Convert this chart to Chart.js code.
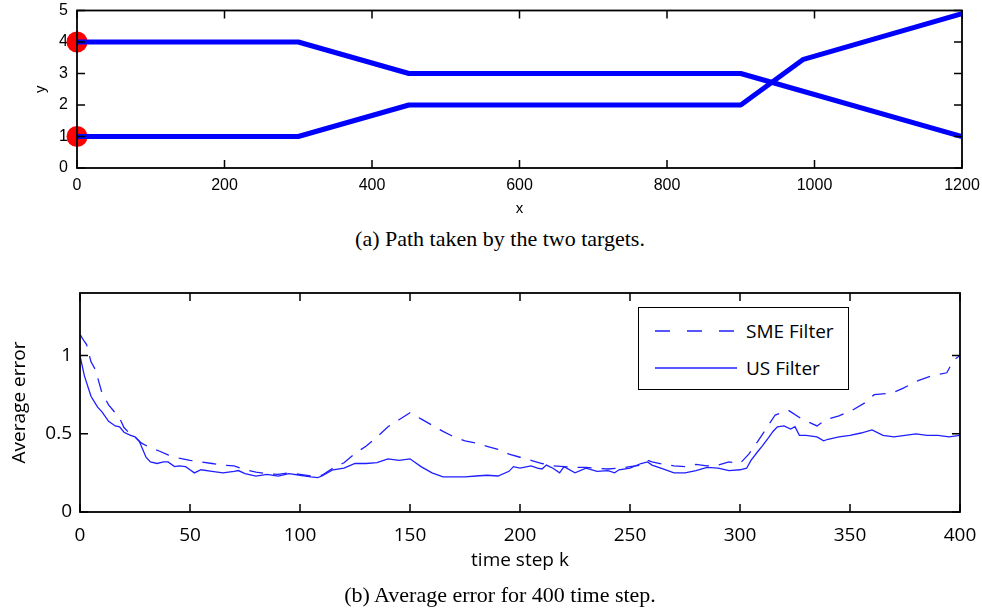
<!DOCTYPE html>
<html>
<head>
<meta charset="utf-8">
<script src="https://cdn.jsdelivr.net/npm/chart.js@4.4.0/dist/chart.umd.min.js"></script>
<style>
  html, body { margin: 0; padding: 0; background: #fff; }
  #wrap { position: relative; width: 982px; height: 609px; overflow: hidden; }
  #pathChart { position: absolute; left: 0; top: 0; }
  #errChart { position: absolute; left: 0; top: 260px; }
  .cap { position: absolute; left: 200px; width: 600px; text-align: center;
         font-family: "Liberation Serif", serif; font-size: 22px; line-height: 26px; color: #000; }
  #legend { position: absolute; left: 638px; top: 307px; width: 209px; height: 81px;
            border: 1.5px solid #000; background: #fff; }
  #legend svg { position: absolute; left: 0; top: 0; }
  #legend span { position: absolute; left: 107px; font-family: "Open Sans", sans-serif;
                 font-size: 19px; line-height: 24px; color: #000; }
</style>
</head>
<body>
<div id="wrap">
  <canvas id="pathChart" width="982" height="226"></canvas>
  <div class="cap" style="top:226px">(a) Path taken by the two targets.</div>
  <canvas id="errChart" width="982" height="349"></canvas>
  <div id="legend">
    <svg width="209" height="81">
      <line x1="16" y1="23" x2="97" y2="23" stroke="#1f1fff" stroke-width="1.4" stroke-dasharray="15 17"></line>
      <line x1="16" y1="60" x2="98" y2="60" stroke="#1f1fff" stroke-width="1.4"></line>
    </svg>
    <span style="top:11px">SME Filter</span>
    <span style="top:48px">US Filter</span>
  </div>
  <div class="cap" style="top:582px">(b) Average error for 400 time step.</div>
</div>

<script>
// paths of the two targets
var path1X = [0, 300, 450, 900, 1200]
var path1Y = [4, 4, 3, 3, 1]
var path2X = [0, 300, 450, 900, 985, 1200]
var path2Y = [1, 1, 2, 2, 3.45, 4.9]
var startX = [0, 0]
var startY = [4, 1]

// average error per time step
var usK = [0, 2, 5, 8, 10, 13, 16, 18, 20, 23, 25, 27, 30, 32, 35, 38, 40, 43, 45, 48, 50, 52, 55, 60, 65,
  70, 72, 75, 80, 85, 90, 95, 100, 105, 108, 110, 115, 120, 125, 130, 135, 140, 145, 150, 155, 160, 165,
  170, 175, 180, 185, 190, 195, 197, 200, 205, 208, 210, 212, 215, 218, 220, 225, 230, 235, 240, 243, 245,
  250, 255, 258, 260, 265, 270, 275, 280, 285, 290, 295, 300, 303, 305, 308, 310, 313, 315, 317, 320, 323,
  325, 327, 330, 335, 338, 340, 345, 350, 355, 360, 365, 370, 375, 380, 385, 390, 395, 400]
var usErr = [1.0, 0.87, 0.74, 0.67, 0.64, 0.58, 0.55, 0.545, 0.51, 0.49, 0.48, 0.45, 0.35, 0.32, 0.31, 0.32,
  0.32, 0.29, 0.295, 0.29, 0.27, 0.25, 0.27, 0.26, 0.25, 0.26, 0.265, 0.245, 0.23, 0.24, 0.23, 0.245, 0.235,
  0.225, 0.22, 0.23, 0.27, 0.28, 0.31, 0.31, 0.315, 0.34, 0.33, 0.34, 0.29, 0.25, 0.225, 0.225, 0.225, 0.23,
  0.235, 0.23, 0.26, 0.29, 0.28, 0.295, 0.28, 0.275, 0.30, 0.28, 0.25, 0.29, 0.25, 0.28, 0.26, 0.265, 0.25,
  0.27, 0.28, 0.31, 0.32, 0.30, 0.275, 0.25, 0.25, 0.265, 0.285, 0.28, 0.265, 0.27, 0.28, 0.33, 0.385, 0.42,
  0.475, 0.515, 0.545, 0.55, 0.53, 0.545, 0.49, 0.49, 0.48, 0.455, 0.465, 0.48, 0.49, 0.505, 0.525, 0.49,
  0.48, 0.49, 0.50, 0.49, 0.49, 0.48, 0.49]

var smeK = [0, 2, 3, 5, 7, 10, 13, 18, 20, 22, 25, 28, 32, 36, 40, 45, 50, 55, 60, 65, 70, 75, 80, 85, 90,
  95, 100, 105, 110, 115, 120, 125, 130, 135, 140, 145, 150, 155, 160, 165, 170, 175, 180, 185, 190, 195,
  200, 205, 210, 215, 220, 225, 230, 235, 240, 245, 250, 255, 258, 260, 265, 270, 275, 280, 285, 290, 295,
  300, 304, 308, 312, 316, 322, 328, 335, 339, 345, 351, 357, 361, 369, 374, 381, 387, 394, 397, 400]
var smeErr = [1.135, 1.09, 1.07, 0.96, 0.91, 0.76, 0.685, 0.60, 0.54, 0.51, 0.48, 0.44, 0.41, 0.39, 0.365,
  0.345, 0.33, 0.32, 0.31, 0.30, 0.295, 0.27, 0.255, 0.245, 0.24, 0.25, 0.24, 0.23, 0.235, 0.28, 0.315,
  0.375, 0.42, 0.48, 0.545, 0.59, 0.635, 0.595, 0.555, 0.515, 0.48, 0.455, 0.44, 0.42, 0.40, 0.37, 0.35,
  0.33, 0.31, 0.295, 0.29, 0.285, 0.285, 0.28, 0.275, 0.28, 0.29, 0.30, 0.33, 0.32, 0.305, 0.295, 0.29,
  0.305, 0.295, 0.30, 0.32, 0.31, 0.37, 0.45, 0.535, 0.62, 0.65, 0.595, 0.55, 0.59, 0.615, 0.65, 0.70,
  0.75, 0.76, 0.79, 0.84, 0.87, 0.89, 0.97, 1.0]

function pts(xs, ys) {
  return xs.map(function(x, i) { return {x: x, y: ys[i]} })
}

// matlab style frame with inward ticks on all four sides
var boxTicks = {
  id: 'boxTicks',
  afterDatasetsDraw: function(chart) {
    var a = chart.chartArea
    var ctx = chart.ctx
    var len = 8
    var xs = chart.scales.x, ys = chart.scales.y
    ctx.save()
    ctx.strokeStyle = '#000'
    ctx.lineWidth = 1.5
    ctx.beginPath()
    xs.ticks.forEach(function(t) {
      var p = xs.getPixelForValue(t.value)
      ctx.moveTo(p, a.bottom); ctx.lineTo(p, a.bottom - len)
      ctx.moveTo(p, a.top); ctx.lineTo(p, a.top + len)
    })
    ys.ticks.forEach(function(t) {
      var p = ys.getPixelForValue(t.value)
      ctx.moveTo(a.left, p); ctx.lineTo(a.left + len, p)
      ctx.moveTo(a.right, p); ctx.lineTo(a.right - len, p)
    })
    ctx.stroke()
    ctx.lineWidth = 1.8
    ctx.strokeRect(a.left, a.top, a.right - a.left, a.bottom - a.top)
    ctx.restore()
  }
}

// fixed axis boxes so the plot area lands where the original has it
function fixX(h) {
  return function(s) { s.height = h; s.paddingLeft = 0; s.paddingRight = 0 }
}
function fixY(w) {
  return function(s) { s.width = w; s.paddingTop = 0; s.paddingBottom = 0 }
}
function plain(v) { return String(v) }

var sans = 'Liberation Sans'
var open = 'Open Sans'

new Chart(document.getElementById('pathChart'), {
  type: 'line',
  data: {
    datasets: [
      { data: pts(path1X, path1Y), borderColor: '#0000ff', borderWidth: 5, pointRadius: 0,
        borderCapStyle: 'round', borderJoinStyle: 'round' },
      { data: pts(path2X, path2Y), borderColor: '#0000ff', borderWidth: 5, pointRadius: 0,
        borderCapStyle: 'round', borderJoinStyle: 'round' },
      { data: pts(startX, startY), showLine: false, pointRadius: 10.5, pointBackgroundColor: '#ff0000',
        pointBorderWidth: 0, borderColor: '#ff0000', clip: false }
    ]
  },
  options: {
    responsive: false,
    animation: false,
    events: [],
    layout: { padding: { left: 0, right: 20, top: 10, bottom: 0 } },
    plugins: { legend: { display: false }, tooltip: { enabled: false } },
    scales: {
      x: {
        type: 'linear', min: 0, max: 1200,
        grid: { display: false, drawTicks: false },
        border: { display: false },
        ticks: { stepSize: 200, padding: 8, color: '#000', font: { family: sans, size: 16 }, callback: plain },
        title: { display: true, text: 'x', color: '#000', font: { family: sans, size: 15 },
                 padding: { top: 0, bottom: 8 } },
        afterFit: fixX(58)
      },
      y: {
        min: 0, max: 5,
        grid: { display: false, drawTicks: false },
        border: { display: false },
        ticks: { stepSize: 1, padding: 9, color: '#000', font: { family: sans, size: 16 }, callback: plain },
        title: { display: true, text: 'y', color: '#000', font: { family: sans, size: 15 },
                 padding: { top: 32, bottom: 0 } },
        afterFit: fixY(77)
      }
    }
  },
  plugins: [boxTicks]
})

new Chart(document.getElementById('errChart'), {
  type: 'line',
  data: {
    datasets: [
      { label: 'SME Filter', data: pts(smeK, smeErr), borderColor: '#1f1fff', borderWidth: 1.3,
        borderDash: [14, 10], pointRadius: 0, tension: 0 },
      { label: 'US Filter', data: pts(usK, usErr), borderColor: '#1f1fff', borderWidth: 1.3,
        pointRadius: 0, tension: 0 }
    ]
  },
  options: {
    responsive: false,
    animation: false,
    events: [],
    layout: { padding: { left: 0, right: 22, top: 33, bottom: 37 } },
    plugins: { legend: { display: false }, tooltip: { enabled: false } },
    scales: {
      x: {
        type: 'linear', min: 0, max: 400,
        grid: { display: false, drawTicks: false },
        border: { display: false },
        ticks: { stepSize: 50, padding: 12, color: '#000', font: { family: open, size: 19 }, callback: plain },
        title: { display: true, text: 'time step k', color: '#000', font: { family: open, size: 19 },
                 padding: { top: 0, bottom: 0 } },
        afterFit: fixX(60)
      },
      y: {
        min: 0, max: 1.4,
        grid: { display: false, drawTicks: false },
        border: { display: false },
        ticks: { stepSize: 0.5, includeBounds: false, padding: 8, color: '#000',
                 font: { family: open, size: 19 }, callback: plain },
        afterBuildTicks: function(s) { s.ticks = s.ticks.filter(function(t) { return t.value <= 1 }) },
        title: { display: true, text: 'Average error', color: '#000', font: { family: open, size: 19 },
                 padding: { top: 8, bottom: 0 } },
        afterFit: fixY(80)
      }
    }
  },
  plugins: [boxTicks]
})
</script>
</body>
</html>
